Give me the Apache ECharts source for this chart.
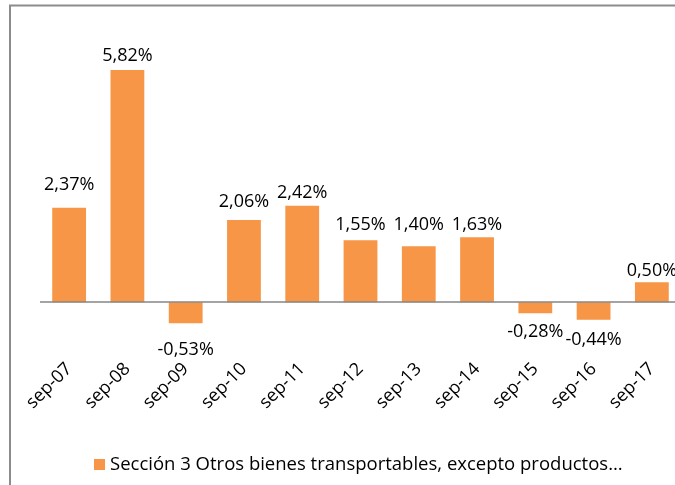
<!DOCTYPE html>
<html>
<head>
<meta charset="utf-8">
<title>sep-07 a sep-17</title>
<script src="https://cdn.jsdelivr.net/npm/echarts@6/dist/echarts.min.js"></script>
<style>
    html, body { margin: 0; padding: 0; background: #fff; }
    #echartsContainer { width: 675px; height: 485px; }
</style>
</head>
<body>
<div id="echartsContainer"></div>
<script>
// datos
var categories = ['sep-07', 'sep-08', 'sep-09', 'sep-10', 'sep-11', 'sep-12', 'sep-13', 'sep-14', 'sep-15', 'sep-16', 'sep-17'];
var values = [2.37, 5.82, -0.53, 2.06, 2.42, 1.55, 1.40, 1.63, -0.28, -0.44, 0.50];
var seriesName = 'Sección 3 Otros bienes transportables, excepto productos…';
// separacion de cada etiqueta respecto a la barra (px)
var labelGap = [14, 5, 18, 9, 4, 6, 12, 3, 10, 11, 2];

var ChartModule = (function (window, document, echarts) {
    var thisContext;
    var ChartClass = function () {
        thisContext = this;
        this.init = function () {
            this.initEcharts();
        }
    }
    ChartClass.prototype = {
        formatPct: function (v) {
            return v.toFixed(2).replace('.', ',') + '%';
        },
        initEcharts: function () {
            var font = '"Open Sans", sans-serif';
            var barData = values.map(function (v, i) {
                return {
                    value: v,
                    label: {
                        position: v < 0 ? 'bottom' : 'top',
                        distance: labelGap[i]
                    }
                };
            });
            var option = {
                animation: false,
                graphic: [{
                    type: 'rect',
                    shape: { x: 10, y: 5.5, width: 700, height: 520 },
                    style: { fill: 'none', stroke: '#8c8c8c', lineWidth: 2 },
                    silent: true
                }],
                legend: {
                    left: 94,
                    top: 455,
                    padding: 0,
                    icon: 'rect',
                    itemWidth: 11,
                    itemHeight: 11,
                    itemGap: 6,
                    textStyle: {
                        color: '#000',
                        fontSize: 18.5,
                        fontFamily: font
                    },
                    data: [seriesName]
                },
                grid: {
                    left: 40,
                    width: 641, // el area de trazado sigue mas alla del borde derecho
                    top: 23,
                    bottom: 127,
                    containLabel: false,
                    outerBoundsMode: 'none'
                },
                xAxis: [{
                    type: 'category',
                    data: categories,
                    axisLine: { show: false, onZero: false },
                    axisTick: { show: false },
                    axisLabel: {
                        rotate: 45,
                        margin: 8,
                        color: '#000',
                        fontSize: 18,
                        fontFamily: font
                    }
                }],
                yAxis: [{
                    type: 'value',
                    min: -1.4,
                    max: 7,
                    show: false,
                    splitLine: { show: false }
                }],
                series: [{
                    name: seriesName,
                    type: 'bar',
                    data: barData,
                    barWidth: '58%',
                    itemStyle: { color: '#F79646' },
                    label: {
                        show: true,
                        color: '#000',
                        fontSize: 18,
                        fontFamily: font,
                        formatter: function (p) {
                            return thisContext.formatPct(p.value);
                        }
                    },
                    markLine: {
                        silent: true,
                        symbol: 'none',
                        label: { show: false },
                        lineStyle: { color: '#868686', width: 1.5, type: 'solid' },
                        data: [{ yAxis: 0 }]
                    }
                }]
            };
            var echart = echarts.init(document.querySelector('#echartsContainer'));
            echart.setOption(option);
        },
        constructor: ChartClass
    };
    return new ChartClass();
})(window, document, echarts);
ChartModule.init();
</script>
</body>
</html>
